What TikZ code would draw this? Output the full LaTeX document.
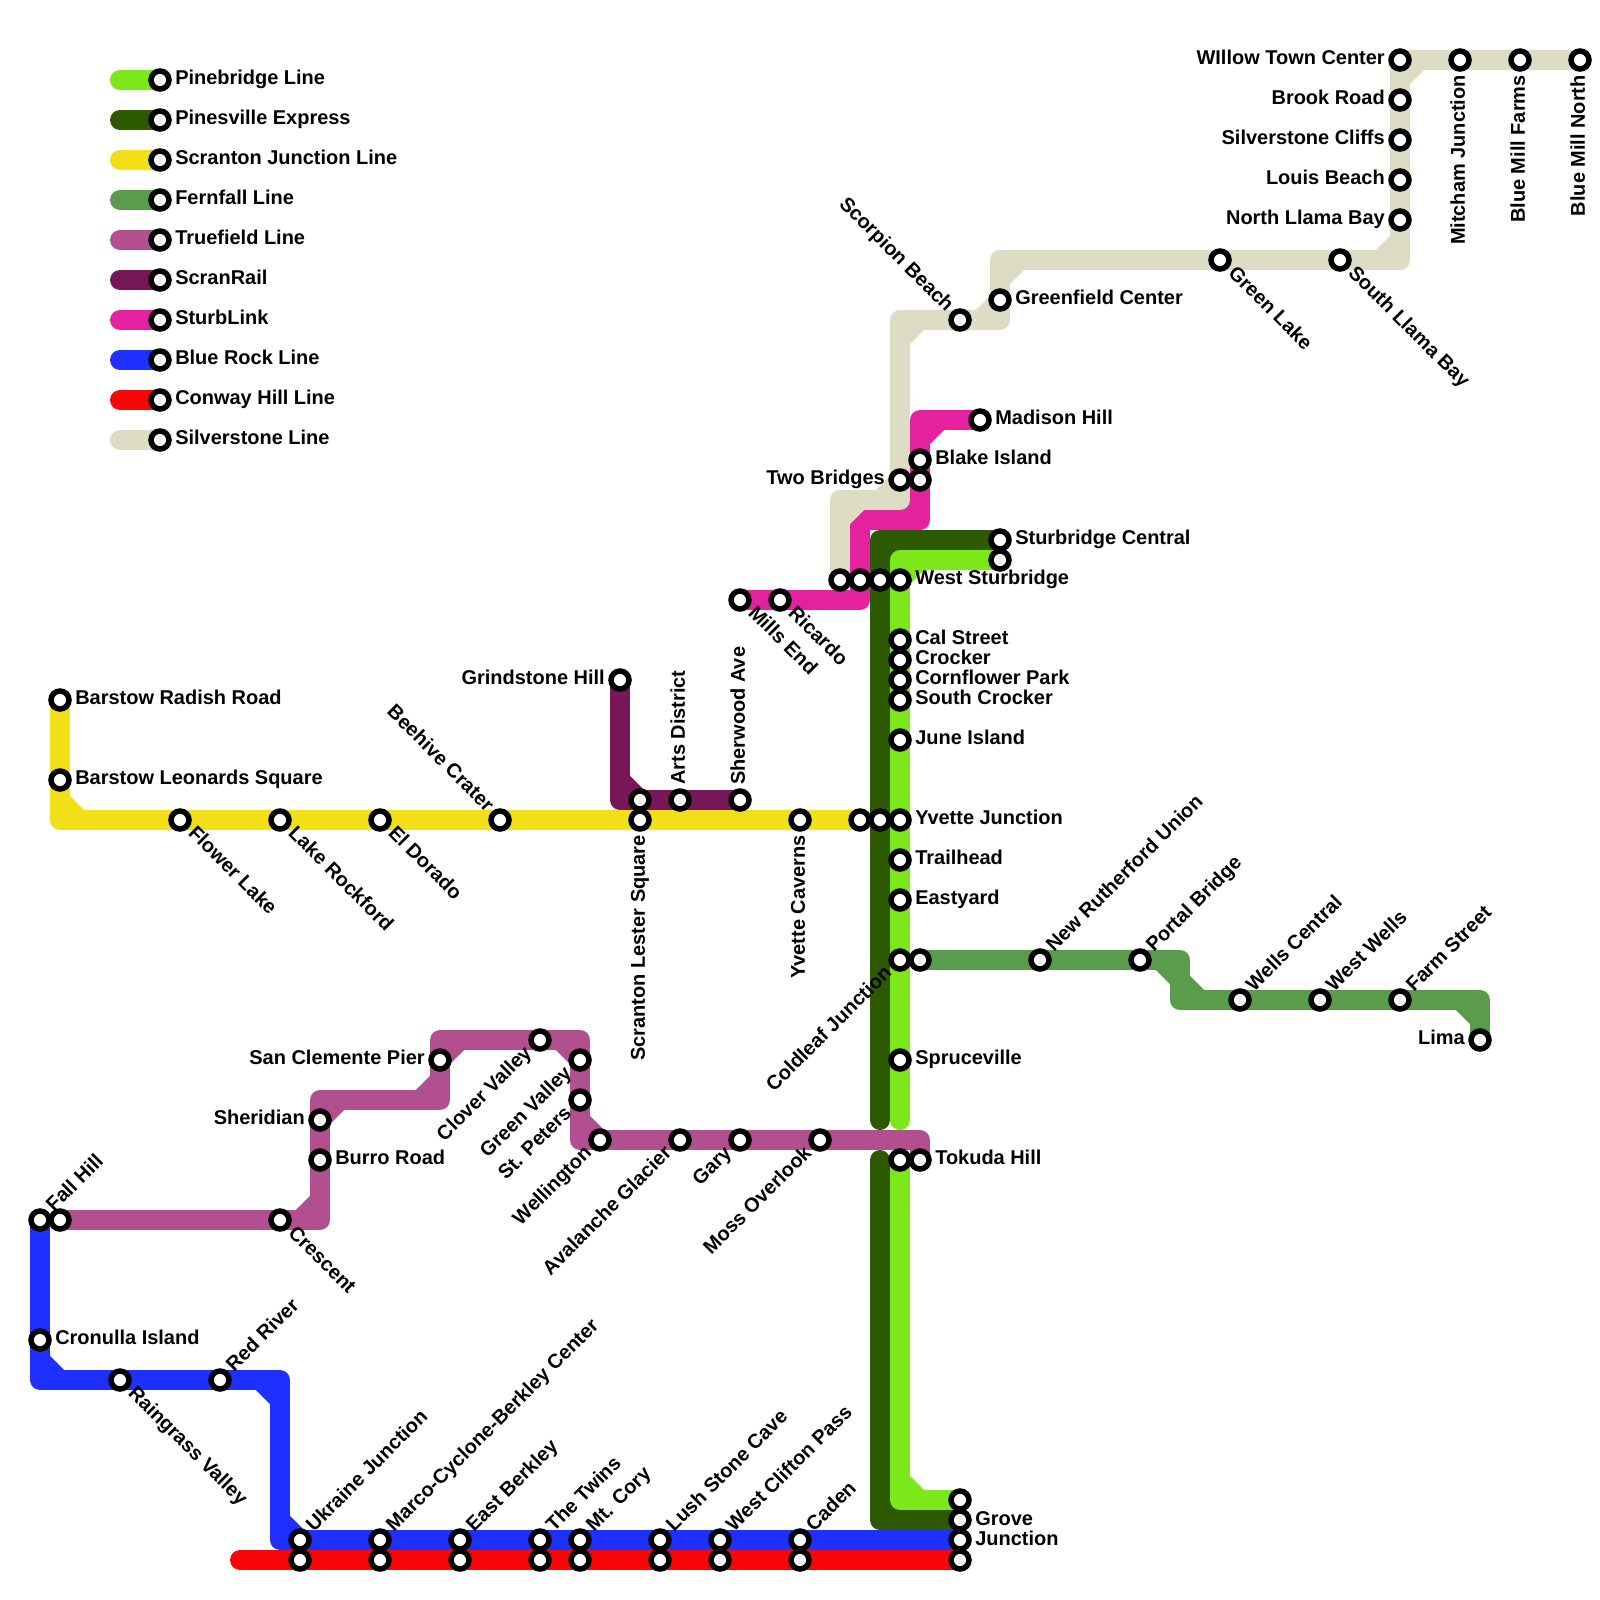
\documentclass[tikz,border=0pt]{standalone}
\usepackage{fontspec}
\setmainfont{Liberation Sans}
\usetikzlibrary{calc, backgrounds}
\definecolor{pinebridge}{RGB}{125,232,25}
\definecolor{pinesville}{RGB}{45,90,0}
\definecolor{scranton}{RGB}{242,223,23}
\definecolor{fernfall}{RGB}{91,155,76}
\definecolor{truefield}{RGB}{177,79,143}
\definecolor{scranrail}{RGB}{120,23,87}
\definecolor{sturblink}{RGB}{228,33,159}
\definecolor{bluerock}{RGB}{29,48,255}
\definecolor{conway}{RGB}{247,7,7}
\definecolor{silverstone}{RGB}{221,221,197}
\tikzset{
  metro/.style={line width=0.5cm, line cap=round, line join=round},
  stn/.style={circle, draw=black, fill=white, line width=0.1375cm,
    minimum size=0.45cm, inner sep=0pt},
  lbl/.style={font=\fontsize{14.2}{14.2}\selectfont\bfseries, inner ysep=0pt,
    inner xsep=0.375cm, text height=0.35cm, text depth=0.1125cm},
  lblr/.style={lbl, anchor=west},
  lbll/.style={lbl, anchor=east},
  lblur/.style={lbl, anchor=west, rotate=45},
  lbldr/.style={lbl, anchor=west, rotate=-45},
  lblul/.style={lbl, anchor=east, rotate=-45},
  lbldl/.style={lbl, anchor=east, rotate=45},
  lblup/.style={lbl, anchor=west, rotate=90},
  lbldn/.style={lbl, anchor=east, rotate=90},
}
\newcommand{\bevel}[4]{\draw[metro, #1] ($(#3)!0.5cm!(#2)$) -- ($(#3)!0.5cm!(#4)$);}
\begin{document}
\begin{tikzpicture}[x=0.5cm, y=-0.5cm]
\useasboundingbox (0,0) rectangle (80,80);

\foreach \id/\y/\col/\txt in {
  1/4/pinebridge/Pinebridge Line,
  2/6/pinesville/Pinesville Express,
  3/8/scranton/Scranton Junction Line,
  4/10/fernfall/Fernfall Line,
  5/12/truefield/Truefield Line,
  6/14/scranrail/ScranRail,
  7/16/sturblink/SturbLink,
  8/18/bluerock/Blue Rock Line,
  9/20/conway/Conway Hill Line,
  10/22/silverstone/Silverstone Line
}{
  \coordinate (keystart\id) at (6,\y);
  \node[stn] (key\id) at (8,\y) {};
  \node[lblr] (keylbl\id) at (key\id) {\txt};
  \begin{scope}[on background layer]
    \draw[metro, \col] (keystart\id) -- (key\id.center);
  \end{scope}
}

\foreach \id/\x/\y/\pos/\txt in {
  radish/3/35/lblr/Barstow Radish Road,
  leonards/3/39/lblr/Barstow Leonards Square,
  flower/9/41/lbldr/Flower Lake,
  rockford/14/41/lbldr/Lake Rockford,
  dorado/19/41/lbldr/El Dorado,
  beehive/25/41/lblul/Beehive Crater,
  lester/32/41/lbldn/Scranton Lester Square,
  caverns/40/41/lbldn/Yvette Caverns,
  grindstone/31/34/lbll/Grindstone Hill,
  arts/34/40/lblup/Arts District,
  sherwood/37/40/lblup/Sherwood Ave,
  mills/37/30/lbldr/Mills End,
  ricardo/39/30/lbldr/Ricardo,
  weststur/45/29/lblr/West Sturbridge,
  blake/46/23/lblr/Blake Island,
  twobridges/45/24/lbll/Two Bridges,
  madison/49/21/lblr/Madison Hill,
  scorpion/48/16/lblul/Scorpion Beach,
  greenfield/50/15/lblr/Greenfield Center,
  greenlake/61/13/lbldr/Green Lake,
  southllama/67/13/lbldr/South Llama Bay,
  northllama/70/11/lbll/North Llama Bay,
  louis/70/9/lbll/Louis Beach,
  cliffs/70/7/lbll/Silverstone Cliffs,
  brook/70/5/lbll/Brook Road,
  willow/70/3/lbll/WIllow Town Center,
  mitcham/73/3/lbldn/Mitcham Junction,
  farms/76/3/lbldn/Blue Mill Farms,
  millnorth/79/3/lbldn/Blue Mill North,
  sturcentral/50/27/lblr/Sturbridge Central,
  cal/45/32/lblr/Cal Street,
  crocker/45/33/lblr/Crocker,
  cornflower/45/34/lblr/Cornflower Park,
  southcrocker/45/35/lblr/South Crocker,
  june/45/37/lblr/June Island,
  yvette/45/41/lblr/Yvette Junction,
  trailhead/45/43/lblr/Trailhead,
  eastyard/45/45/lblr/Eastyard,
  coldleaf/45/48/lbldl/Coldleaf Junction,
  rutherford/52/48/lblur/New Rutherford Union,
  portal/57/48/lblur/Portal Bridge,
  wells/62/50/lblur/Wells Central,
  westwells/66/50/lblur/West Wells,
  farm/70/50/lblur/Farm Street,
  lima/74/52/lbll/Lima,
  spruceville/45/53/lblr/Spruceville,
  tokuda/46/58/lblr/Tokuda Hill,
  crescent/14/61/lbldr/Crescent,
  sheridian/16/56/lbll/Sheridian,
  burro/16/58/lblr/Burro Road,
  clemente/22/53/lbll/San Clemente Pier,
  clover/27/52/lbldl/Clover Valley,
  greenvalley/29/53/lbldl/Green Valley,
  peters/29/55/lbldl/St. Peters,
  wellington/30/57/lbldl/Wellington,
  avalanche/34/57/lbldl/Avalanche Glacier,
  gary/37/57/lbldl/Gary,
  moss/41/57/lbldl/Moss Overlook,
  fallhill/2/61/lblur/Fall Hill,
  cronulla/2/67/lblr/Cronulla Island,
  raingrass/6/69/lbldr/Raingrass Valley,
  redriver/11/69/lblur/Red River,
  ukraine/15/77/lblur/Ukraine Junction,
  marco/19/77/lblur/Marco-Cyclone-Berkley Center,
  eastberkley/23/77/lblur/East Berkley,
  twins/27/77/lblur/The Twins,
  cory/29/77/lblur/Mt. Cory,
  lush/33/77/lblur/Lush Stone Cave,
  clifton/36/77/lblur/West Clifton Pass,
  caden/40/77/lblur/Caden
}{
  \node[stn] (\id) at (\x,\y) {};
  \node[\pos] (lbl\id) at (\id) {\txt};
}

\foreach \id/\x/\y in {
  yellowend/43/41, railjoin/32/40, silverend/42/29, linkjoin/43/29, expjoin/44/29,
  linkstop/46/24, sturlow/50/28, expyvette/44/41, fernstart/46/48, tokudapine/45/58,
  trueend/3/61, grovetop/48/75, grovemid/48/76, junction/48/77, conwayend/48/78,
  red15/15/78, red19/19/78, red23/23/78, red27/27/78, red29/29/78,
  red33/33/78, red36/36/78, red40/40/78
}{
  \node[stn] (\id) at (\x,\y) {};
}

\node[lbl, anchor=west, align=left, text height=, text depth=, yshift=0.03cm] (lblgrove)
  at ($(grovemid)!0.5!(junction)$) {Grove\\Junction};

\coordinate (pinetop) at (45,28);
\coordinate (pinecut) at (45,56);
\coordinate (pinebot) at (45,75);
\coordinate (exptop) at (44,27);
\coordinate (expcut) at (44,56);
\coordinate (expres) at (44,58);
\coordinate (expbot) at (44,76);
\coordinate (yellowbend) at (3,41);
\coordinate (railbend) at (31,40);
\coordinate (fernbenda) at (59,48);
\coordinate (fernbendb) at (59,50);
\coordinate (fernbendc) at (74,50);
\coordinate (truebenda) at (16,61);
\coordinate (truebendb) at (16,55);
\coordinate (truebendc) at (22,55);
\coordinate (truebendd) at (22,52);
\coordinate (truebende) at (29,52);
\coordinate (truebendf) at (29,57);
\coordinate (truebendg) at (46,57);
\coordinate (linkbenda) at (43,30);
\coordinate (linkbendb) at (43,26);
\coordinate (linkbendc) at (46,26);
\coordinate (linkbendd) at (46,21);
\coordinate (silverbenda) at (42,25);
\coordinate (silverbendb) at (45,25);
\coordinate (silverbendc) at (45,16);
\coordinate (silverbendd) at (50,16);
\coordinate (silverbende) at (50,13);
\coordinate (silverbendf) at (70,13);
\coordinate (silverbendg) at (70,3);
\coordinate (bluebenda) at (2,69);
\coordinate (bluebendb) at (14,69);
\coordinate (bluebendc) at (14,77);
\coordinate (conwaystart) at (12,78);

\begin{scope}[on background layer]
  \draw[metro, pinesville] (sturcentral.center) -- (exptop) -- (expcut);
  \draw[metro, pinesville] (expres) -- (expbot) -- (grovemid.center);
  \bevel{pinesville}{sturcentral}{exptop}{expcut}
  \bevel{pinesville}{expres}{expbot}{grovemid}
  \draw[metro, pinebridge] (sturlow.center) -- (pinetop) -- (pinecut);
  \draw[metro, pinebridge] (tokudapine.center) -- (pinebot) -- (grovetop.center);
  \bevel{pinebridge}{sturlow}{pinetop}{pinecut}
  \bevel{pinebridge}{tokudapine}{pinebot}{grovetop}

  \draw[metro, scranton] (radish.center) -- (yellowbend) -- (yellowend.center);
  \bevel{scranton}{radish}{yellowbend}{yellowend}

  \draw[metro, scranrail] (grindstone.center) -- (railbend) -- (sherwood.center);
  \bevel{scranrail}{grindstone}{railbend}{sherwood}

  \draw[metro, fernfall] (fernstart.center) -- (fernbenda) -- (fernbendb) -- (fernbendc) -- (lima.center);
  \bevel{fernfall}{fernstart}{fernbenda}{fernbendb}
  \bevel{fernfall}{fernbenda}{fernbendb}{fernbendc}
  \bevel{fernfall}{fernbendb}{fernbendc}{lima}

  \draw[metro, truefield] (trueend.center) -- (truebenda) -- (truebendb) -- (truebendc) -- (truebendd)
    -- (truebende) -- (truebendf) -- (truebendg) -- (tokuda.center);
  \bevel{truefield}{trueend}{truebenda}{truebendb}
  \bevel{truefield}{truebenda}{truebendb}{truebendc}
  \bevel{truefield}{truebendb}{truebendc}{truebendd}
  \bevel{truefield}{truebendc}{truebendd}{truebende}
  \bevel{truefield}{truebendd}{truebende}{truebendf}
  \bevel{truefield}{truebende}{truebendf}{truebendg}

  \draw[metro, sturblink] (mills.center) -- (linkbenda) -- (linkbendb) -- (linkbendc) -- (linkbendd) -- (madison.center);
  \bevel{sturblink}{linkbendb}{linkbendc}{linkbendd}
  \bevel{sturblink}{linkbendc}{linkbendd}{madison}

  \draw[metro, silverstone] (silverend.center) -- (silverbenda) -- (silverbendb) -- (silverbendc) -- (silverbendd)
    -- (silverbende) -- (silverbendf) -- (silverbendg) -- (millnorth.center);
  \bevel{silverstone}{silverend}{silverbenda}{silverbendb}
  \bevel{silverstone}{silverbenda}{silverbendb}{silverbendc}
  \bevel{silverstone}{silverbendb}{silverbendc}{silverbendd}
  \bevel{silverstone}{silverbendc}{silverbendd}{silverbende}
  \bevel{silverstone}{silverbendd}{silverbende}{silverbendf}
  \bevel{silverstone}{silverbende}{silverbendf}{silverbendg}
  \bevel{silverstone}{silverbendf}{silverbendg}{millnorth}

  \draw[metro, bluerock] (fallhill.center) -- (bluebenda) -- (bluebendb) -- (bluebendc) -- (junction.center);
  \bevel{bluerock}{fallhill}{bluebenda}{bluebendb}
  \bevel{bluerock}{bluebenda}{bluebendb}{bluebendc}
  \bevel{bluerock}{bluebendb}{bluebendc}{junction}

  \draw[metro, conway] (conwaystart) -- (conwayend.center);
\end{scope}
\end{tikzpicture}
\end{document}
